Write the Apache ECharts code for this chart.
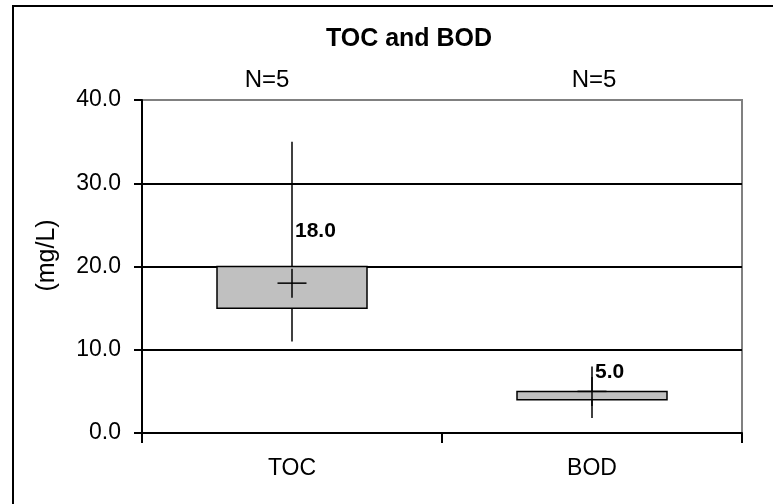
<!DOCTYPE html>
<html>
<head>
<meta charset="utf-8">
<title>TOC and BOD</title>
<script src="https://cdn.jsdelivr.net/npm/echarts@6/dist/echarts.min.js"></script>
<style>
  html, body { margin: 0; padding: 0; background: #ffffff; }
  #chart { width: 773px; height: 504px; }
</style>
</head>
<body>
<div id="chart"></div>
<script>
// Parameters measured for each determinand (mg/L)
const categories = ['TOC', 'BOD'];
const whiskerLow = [11.0, 1.8];
const boxLow = [15.0, 4.0];
const boxHigh = [20.0, 5.0];
const whiskerHigh = [35.0, 8.0];
const means = [18.0, 5.0];
const counts = [5, 5];
const yMin = 0;
const yMax = 40;
const yStep = 10;

// Text placement around each box (pixels)
const meanLabelDy = [-52, -19];
const countLabelDx = [-25, 2];

const FONT = '"Liberation Sans", Arial, sans-serif';

const chart = echarts.init(document.getElementById('chart'), null, { renderer: 'canvas' });

const seriesData = categories.map((c, i) => [
  i, whiskerLow[i], boxLow[i], boxHigh[i], whiskerHigh[i], means[i], counts[i]
]);

function renderBox(params, api) {
  const i = api.value(0);
  const cx = api.coord([i, 0])[0];
  const bw = api.size([1, 0])[0] * 0.5;
  const yWL = api.coord([i, api.value(1)])[1];
  const yBL = api.coord([i, api.value(2)])[1];
  const yBH = api.coord([i, api.value(3)])[1];
  const yWH = api.coord([i, api.value(4)])[1];
  const yM = api.coord([i, api.value(5)])[1];
  const yTop = api.coord([i, yMax])[1];
  const half = 14.5;
  const stroke = { stroke: '#000000', lineWidth: 1.5 };
  return {
    type: 'group',
    children: [
      { type: 'line', shape: { x1: cx, y1: yWL, x2: cx, y2: yWH }, style: stroke },
      { type: 'rect', shape: { x: cx - bw / 2, y: yBH, width: bw, height: yBL - yBH },
        style: { fill: '#C0C0C0', stroke: '#000000', lineWidth: 1.5 } },
      { type: 'line', shape: { x1: cx - half, y1: yM, x2: cx + half, y2: yM }, style: stroke },
      { type: 'line', shape: { x1: cx, y1: yM - half, x2: cx, y2: yM + half }, style: stroke },
      { type: 'text', style: {
          text: api.value(5).toFixed(1), x: cx + 3, y: yM + meanLabelDy[i],
          align: 'left', verticalAlign: 'middle',
          font: 'bold 21px ' + FONT, fill: '#000000' } },
      { type: 'text', style: {
          text: 'N=' + api.value(6), x: cx + countLabelDx[i], y: yTop - 20,
          align: 'center', verticalAlign: 'middle',
          font: '24px ' + FONT, fill: '#000000' } }
    ]
  };
}

const option = {
  animation: false,
  backgroundColor: '#ffffff',
  title: {
    text: 'TOC and BOD',
    left: 409,
    textAlign: 'center',
    top: 27,
    padding: 0,
    textStyle: { fontFamily: FONT, fontWeight: 'bold', fontSize: 25, color: '#000000' }
  },
  grid: {
    left: 142, top: 100, width: 600, height: 333,
    show: true, borderColor: '#808080', borderWidth: 2,
    containLabel: false, outerBoundsMode: 'none'
  },
  xAxis: {
    type: 'category',
    data: categories,
    boundaryGap: true,
    axisLine: { show: true, lineStyle: { color: '#000000', width: 2 } },
    axisTick: { show: true, alignWithLabel: false, length: 10, lineStyle: { color: '#000000', width: 2 } },
    axisLabel: { margin: 24, fontFamily: FONT, fontSize: 23, color: '#000000' },
    splitLine: { show: false }
  },
  yAxis: {
    type: 'value',
    min: yMin, max: yMax, interval: yStep,
    name: '(mg/L)',
    nameLocation: 'middle',
    nameRotate: 90,
    nameGap: 82,
    nameTextStyle: { fontFamily: FONT, fontSize: 25, color: '#000000', padding: [0, 0, 0, 22] },
    axisLine: { show: true, lineStyle: { color: '#000000', width: 2 } },
    axisTick: { show: true, inside: false, length: 8, lineStyle: { color: '#000000', width: 2 } },
    axisLabel: {
      margin: 21, fontFamily: FONT, fontSize: 23, color: '#000000',
      formatter: v => v.toFixed(1)
    },
    splitLine: {
      show: true,
      lineStyle: { color: ['#000000', '#000000', '#000000', '#000000', '#808080'], width: 2 }
    }
  },
  graphic: [
    {
      type: 'polyline',
      shape: { points: [[13, 504], [13, 6], [773, 6]] },
      style: { stroke: '#000000', lineWidth: 2, fill: null },
      z: 100
    }
  ],
  series: [
    {
      type: 'custom',
      renderItem: renderBox,
      encode: { x: 0, y: [1, 4] },
      data: seriesData,
      z: 10
    }
  ]
};

chart.setOption(option);
</script>
</body>
</html>
